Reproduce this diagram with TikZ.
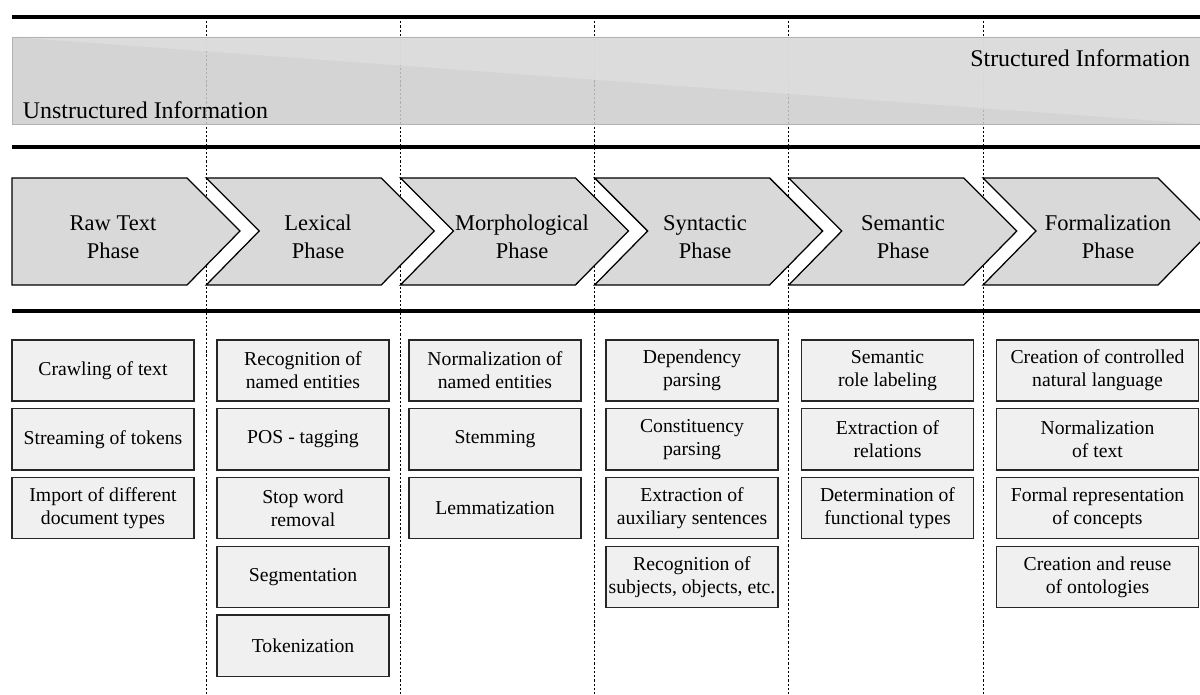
\documentclass[tikz,border=0pt]{standalone}
\usepackage{fontspec}
\setmainfont{Liberation Serif}
\definecolor{bandaosc}{HTML}{CDCDCD}
\definecolor{bandaclr}{HTML}{DEDEDE}
\definecolor{flechagris}{HTML}{D9D9D9}
\definecolor{cajagris}{HTML}{F0F0F0}
\tikzset{
  linea/.style={line width=2.6pt},
  separador/.style={dash pattern=on 1.6pt off 1.4pt, line width=0.6pt},
  flecha/.style={draw=black, fill=flechagris, line width=0.9pt, line join=miter},
  fase/.style={align=center, font=\fontsize{16}{19.8}\selectfont},
  tarea/.style={draw=black!85, fill=cajagris, line width=1pt, align=center,
    minimum width=4.3cm, minimum height=1.525cm, inner sep=1pt,
    font=\fontsize{14}{16.5}\selectfont}
}
\begin{document}
\begin{tikzpicture}[x=0.025cm, y=-0.025cm]
    \useasboundingbox (0,0) rectangle (1200,695);
    \clip (0,0) rectangle (1200,695);

    % Separadores
    \draw[separador] (206.2,17) -- (206.2,695);
    \draw[separador] (400.4,17) -- (400.4,695);
    \draw[separador] (594.6,17) -- (594.6,695);
    \draw[separador] (788.8,17) -- (788.8,695);
    \draw[separador] (983,17) -- (983,695);

    % Banda de información
    \fill[bandaosc, opacity=0.85] (12,37) rectangle (1200,124);
    \fill[bandaclr, opacity=0.85] (12,37) -- (1200,37) -- (1200,124) -- cycle;
    \draw[gray!60, line width=0.7pt] (12,37) rectangle (1200,124);
    \node[anchor=west, font=\fontsize{17}{20}\selectfont] (unstr) at (18,110) {Unstructured Information};
    \node[anchor=east, font=\fontsize{17}{20}\selectfont] (str) at (1195,58) {Structured Information};

    % Líneas
    \draw[linea] (12,17) -- (1200,17);
    \draw[linea] (12,147) -- (1200,147);
    \draw[linea] (12,311) -- (1200,311);

    % Fases
    \draw[flecha] (12,178) -- (187,178) -- (240,231) -- (187,285) -- (12,285) -- cycle;
    \draw[flecha] (206.2,178) -- (381.2,178) -- (434.2,231) -- (381.2,285) -- (206.2,285) -- (259.2,231) -- cycle;
    \draw[flecha] (400.4,178) -- (575.4,178) -- (628.4,231) -- (575.4,285) -- (400.4,285) -- (453.4,231) -- cycle;
    \draw[flecha] (594.6,178) -- (769.6,178) -- (822.6,231) -- (769.6,285) -- (594.6,285) -- (647.6,231) -- cycle;
    \draw[flecha] (788.8,178) -- (963.8,178) -- (1016.8,231) -- (963.8,285) -- (788.8,285) -- (841.8,231) -- cycle;
    \draw[flecha] (983,178) -- (1158,178) -- (1211,231) -- (1158,285) -- (983,285) -- (1036,231) -- cycle;

    \node[fase] (f1) at (113,237) {Raw Text\\Phase};
    \node[fase] (f2) at (318,237) {Lexical\\Phase};
    \node[fase] (f3) at (522,237) {Morphological\\Phase};
    \node[fase] (f4) at (705,237) {Syntactic\\Phase};
    \node[fase] (f5) at (903,237) {Semantic\\Phase};
    \node[fase] (f6) at (1108,237) {Formalization\\Phase};

    % Columna 1
    \node[tarea, minimum width=4.55cm] (t11) at (103,370.5) {Crawling of text};
    \node[tarea, minimum width=4.55cm] (t12) at (103,439.3) {Streaming of tokens};
    \node[tarea, minimum width=4.55cm] (t13) at (103,508.1) {Import of different\\document types};

    % Columna 2
    \node[tarea] (t21) at (303,370.5) {Recognition of\\named entities};
    \node[tarea] (t22) at (303,439.3) {POS - tagging};
    \node[tarea] (t23) at (303,508.1) {Stop word\\removal};
    \node[tarea] (t24) at (303,576.9) {Segmentation};
    \node[tarea] (t25) at (303,645.7) {Tokenization};

    % Columna 3
    \node[tarea] (t31) at (495,370.5) {Normalization of\\named entities};
    \node[tarea] (t32) at (495,439.3) {Stemming};
    \node[tarea] (t33) at (495,508.1) {Lemmatization};

    % Columna 4
    \node[tarea] (t41) at (692,370.5) {Dependency\\parsing};
    \node[tarea] (t42) at (692,439.3) {Constituency\\parsing};
    \node[tarea] (t43) at (692,508.1) {Extraction of\\auxiliary sentences};
    \node[tarea] (t44) at (692,576.9) {Recognition of\\subjects, objects, etc.};

    % Columna 5
    \node[tarea] (t51) at (887.5,370.5) {Semantic\\role labeling};
    \node[tarea] (t52) at (887.5,439.3) {Extraction of\\relations};
    \node[tarea] (t53) at (887.5,508.1) {Determination of\\functional types};

    % Columna 6
    \node[tarea, minimum width=5.05cm] (t61) at (1097.5,370.5) {Creation of controlled\\natural language};
    \node[tarea, minimum width=5.05cm] (t62) at (1097.5,439.3) {Normalization\\of text};
    \node[tarea, minimum width=5.05cm] (t63) at (1097.5,508.1) {Formal representation\\of concepts};
    \node[tarea, minimum width=5.05cm] (t64) at (1097.5,576.9) {Creation and reuse\\of ontologies};
\end{tikzpicture}
\end{document}
